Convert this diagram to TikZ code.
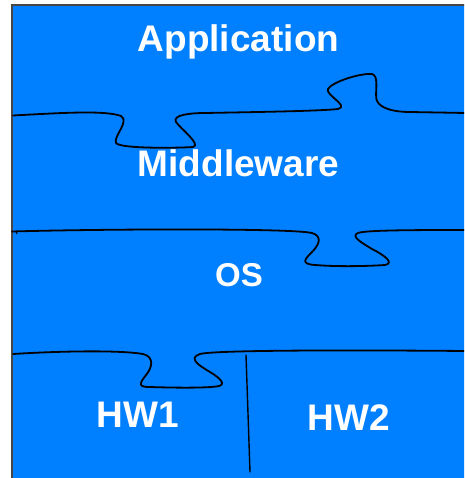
\documentclass[tikz,border=0pt]{standalone}
\usepackage{fontspec}
\setmainfont{Liberation Sans}
\definecolor{layerblue}{RGB}{0,128,255}
\definecolor{frame}{RGB}{70,70,70}
\tikzset{
  seam/.style={draw=black, line width=1.8pt, line cap=round, line join=round},
  layer/.style={text=white, font=\fontsize{37}{42}\selectfont\bfseries, inner sep=0pt, anchor=base},
}
\begin{document}
\begin{tikzpicture}[x=1pt,y=-1pt]
\useasboundingbox (0,0) rectangle (464,478);
\clip (0,0) rectangle (464,478);
% background panel
\fill[layerblue] (12,5) rectangle (475,490);
\draw[frame, line width=1.5pt] (12,490) -- (12,5) -- (475,5);

% seam end points
\coordinate (s1l) at (13,115.5);
\coordinate (s1r) at (466,113);
\coordinate (s2l) at (12,231.5);
\coordinate (s2r) at (466,230);
\coordinate (s3l) at (13,354);
\coordinate (s3r) at (466,351);
\coordinate (vtop) at (246,355);
\coordinate (vbot) at (250,472);

% Application / Middleware seam
\draw[seam] (s1l) .. controls (60,113) and (105,110) .. (121,116)
  .. controls (130,121) and (113,137) .. (116,143)
  .. controls (120,149) and (180,148) .. (193,147)
  .. controls (202,145) and (180,128) .. (176,122)
  .. controls (172,115) and (190,113) .. (205,113)
  .. controls (260,112) and (320,111) .. (338,109)
  .. controls (350,106) and (325,95) .. (328,89)
  .. controls (332,82) and (360,73) .. (372,74)
  .. controls (380,76) and (374,95) .. (377,101)
  .. controls (381,109) and (395,112) .. (410,112)
  -- (s1r);

% Middleware / OS seam
\draw[seam] (s2l) .. controls (100,229) and (290,228) .. (312,233)
  .. controls (322,236) and (320,244) .. (312,252)
  .. controls (305,259) and (300,264) .. (315,265)
  .. controls (340,267) and (370,266) .. (385,265)
  .. controls (395,263) and (384,255) .. (372,249)
  .. controls (362,243) and (350,236) .. (358,233)
  .. controls (365,230) and (420,230) .. (s2r);
\draw[line width=1pt] (16,231) -- (17,234);

% OS / hardware seam
\draw[seam] (s3l) .. controls (60,351) and (120,350) .. (143,354)
  .. controls (155,357) and (152,368) .. (146,375)
  .. controls (139,384) and (138,387) .. (150,387)
  .. controls (180,388) and (210,388) .. (219,386)
  .. controls (226,384) and (220,378) .. (210,372)
  .. controls (198,365) and (188,358) .. (200,354)
  .. controls (215,350) and (350,350) .. (s3r);

% split between the two hardware blocks
\draw[seam, line width=1.4pt] (vtop) -- (vbot);

% layer labels
\node[layer] (app) at (238.5,52) {Application};
\node[layer] (mid) at (238.5,177) {Middleware};
\node[layer, font=\fontsize{33}{38}\selectfont\bfseries] (os) at (239,286) {OS};
\node[layer] (hw1) at (138,427) {HW1};
\node[layer] (hw2) at (349,430) {HW2};
\end{tikzpicture}
\end{document}
